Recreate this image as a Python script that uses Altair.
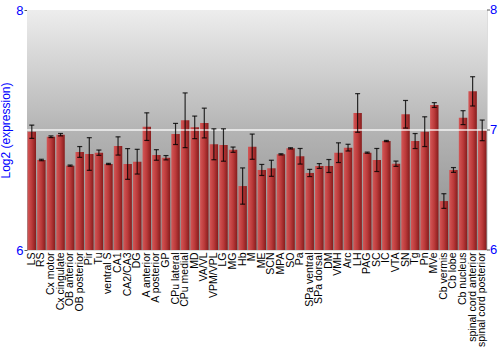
import altair as alt
import pandas as pd

regions = ["LS", "RS", "Cx motor", "Cx cingulate", "OB anterior", "OB posterior", "Pir", "Tu",
           "ventral S", "CA1", "CA2/CA3", "DG", "A anterior", "A posterior", "GP", "CPu lateral",
           "CPu medial", "MD", "VA/VL", "VPM/VPL", "LG", "MG", "Hb", "M", "ME", "SCN", "MPA", "SO",
           "Pa", "SPa ventral", "SPa dorsal", "DM", "VMH", "Arc", "LH", "PAG", "SC", "IC", "VTA",
           "SN", "Tg", "Pn", "MVe", "Cb vermis", "Cb lobe", "Cb nucleus", "spinal cord anterior",
           "spinal cord posterior"]
values = [6.986, 6.75, 6.944, 6.961, 6.703, 6.817, 6.80, 6.811,
          6.717, 6.867, 6.717, 6.736, 7.028, 6.792, 6.769, 6.967,
          7.081, 7.022, 7.058, 6.881, 6.875, 6.836, 6.533, 6.861, 6.667, 6.681, 6.797, 6.847,
          6.781, 6.642, 6.70, 6.70, 6.811, 6.853, 7.142, 6.811, 6.75, 6.908, 6.719,
          7.131, 6.908, 6.986, 7.208, 6.408, 6.667, 7.103, 7.322,
          6.997]
errors = [0.055, 0.006, 0.007, 0.01, 0.005, 0.045, 0.136, 0.022,
          0.005, 0.076, 0.128, 0.103, 0.115, 0.044, 0.018, 0.088,
          0.228, 0.094, 0.124, 0.129, 0.135, 0.022, 0.151, 0.105, 0.046, 0.067, 0.005, 0.005,
          0.065, 0.03, 0.02, 0.054, 0.082, 0.028, 0.161, 0.005, 0.096, 0.005, 0.022,
          0.115, 0.0625, 0.124, 0.02, 0.061, 0.02, 0.058, 0.122,
          0.086]
y_ticks = [6, 7, 8]

df = pd.DataFrame({"region": regions, "val": values, "err": errors})
df["lo"] = df["val"] - df["err"]
df["hi"] = df["val"] + df["err"]
df["base"] = 6.0
ticks_df = pd.DataFrame({"t": y_ticks, "lab": [str(t) for t in y_ticks]})

W, H = 460, 240
blue = "#0000ff"

xenc = alt.X("region:N", sort=regions, title=None,
             scale=alt.Scale(paddingInner=0.12, paddingOuter=0.06),
             axis=alt.Axis(labelAngle=-90, labelFontSize=10.5, labelFont="Liberation Sans",
                           labelColor="black", ticks=False, domain=False, labelPadding=2))
yscale = alt.Scale(domain=[6, 8], zero=False, nice=False)
yaxis = alt.Axis(values=y_ticks, format="d", orient="left", labelColor=blue, titleColor=blue,
                 labelFontSize=13, titleFontSize=12, labelFont="Liberation Sans",
                 titleFont="Liberation Sans", titleFontWeight="normal",
                 domain=False, grid=False, tickSize=3, tickColor="#555555",
                 labelPadding=1, titlePadding=3)
ytitle = "Log2 (expression)"

bg = alt.Chart(pd.DataFrame({"a": [0]})).mark_rect(
    fill=alt.Gradient(gradient="linear", x1=0, y1=0, x2=0, y2=1,
                      stops=[alt.GradientStop(color="#ededed", offset=0),
                             alt.GradientStop(color="#b4b4b4", offset=0.5),
                             alt.GradientStop(color="#8a8a8a", offset=1)])
).encode(x=alt.value(0), x2=alt.value(W), y=alt.value(0), y2=alt.value(H))

bars = alt.Chart(df).mark_bar(
    fill=alt.Gradient(gradient="linear", x1=0, y1=0, x2=1, y2=0,
                      stops=[alt.GradientStop(color="#d45656", offset=0),
                             alt.GradientStop(color="#bb3a3a", offset=0.5),
                             alt.GradientStop(color="#861c1c", offset=1)])
).encode(
    x=xenc,
    y=alt.Y("val:Q", scale=yscale, title=ytitle, axis=yaxis),
    y2="base:Q",
)

rule7 = alt.Chart(pd.DataFrame({"y": [7.0]})).mark_rule(
    color="white", strokeWidth=1.5, opacity=0.85
).encode(y=alt.Y("y:Q", scale=yscale, title=ytitle, axis=yaxis),
         x=alt.value(0), x2=alt.value(W))

errs = alt.Chart(df).mark_rule(color="black", strokeWidth=1.2, opacity=0.8).encode(
    x=alt.X("region:N", sort=regions),
    y=alt.Y("lo:Q", scale=yscale, title=ytitle, axis=yaxis), y2="hi:Q")
caps_hi = alt.Chart(df).mark_tick(color="black", orient="horizontal", size=5, thickness=1.2,
                                  opacity=0.8).encode(
    x=alt.X("region:N", sort=regions),
    y=alt.Y("hi:Q", scale=yscale, title=ytitle, axis=yaxis))
caps_lo = alt.Chart(df).mark_tick(color="black", orient="horizontal", size=5, thickness=1.2,
                                  opacity=0.8).encode(
    x=alt.X("region:N", sort=regions),
    y=alt.Y("lo:Q", scale=yscale, title=ytitle, axis=yaxis))

# right-side axis labels and ticks
rticks = alt.Chart(ticks_df).mark_rule(color="#555555").encode(
    y=alt.Y("t:Q", scale=yscale, title=ytitle, axis=yaxis),
    x=alt.value(W), x2=alt.value(W + 3))
rlabels = alt.Chart(ticks_df).mark_text(
    align="left", baseline="middle", color=blue, fontSize=13, font="Liberation Sans"
).encode(y=alt.Y("t:Q", scale=yscale, title=ytitle, axis=yaxis),
         x=alt.value(W + 3), text="lab:N")

chart = alt.layer(bg, bars, rule7, errs, caps_hi, caps_lo, rticks, rlabels).properties(
    width=W, height=H,
    autosize=alt.AutoSizeParams(type="none"),
    padding={"left": 27, "top": 10, "right": 13, "bottom": 100},
).configure_view(stroke="#808080", strokeWidth=1).configure(background="white")

chart.save("out.html", embed_options={"renderer": "svg", "actions": False})
